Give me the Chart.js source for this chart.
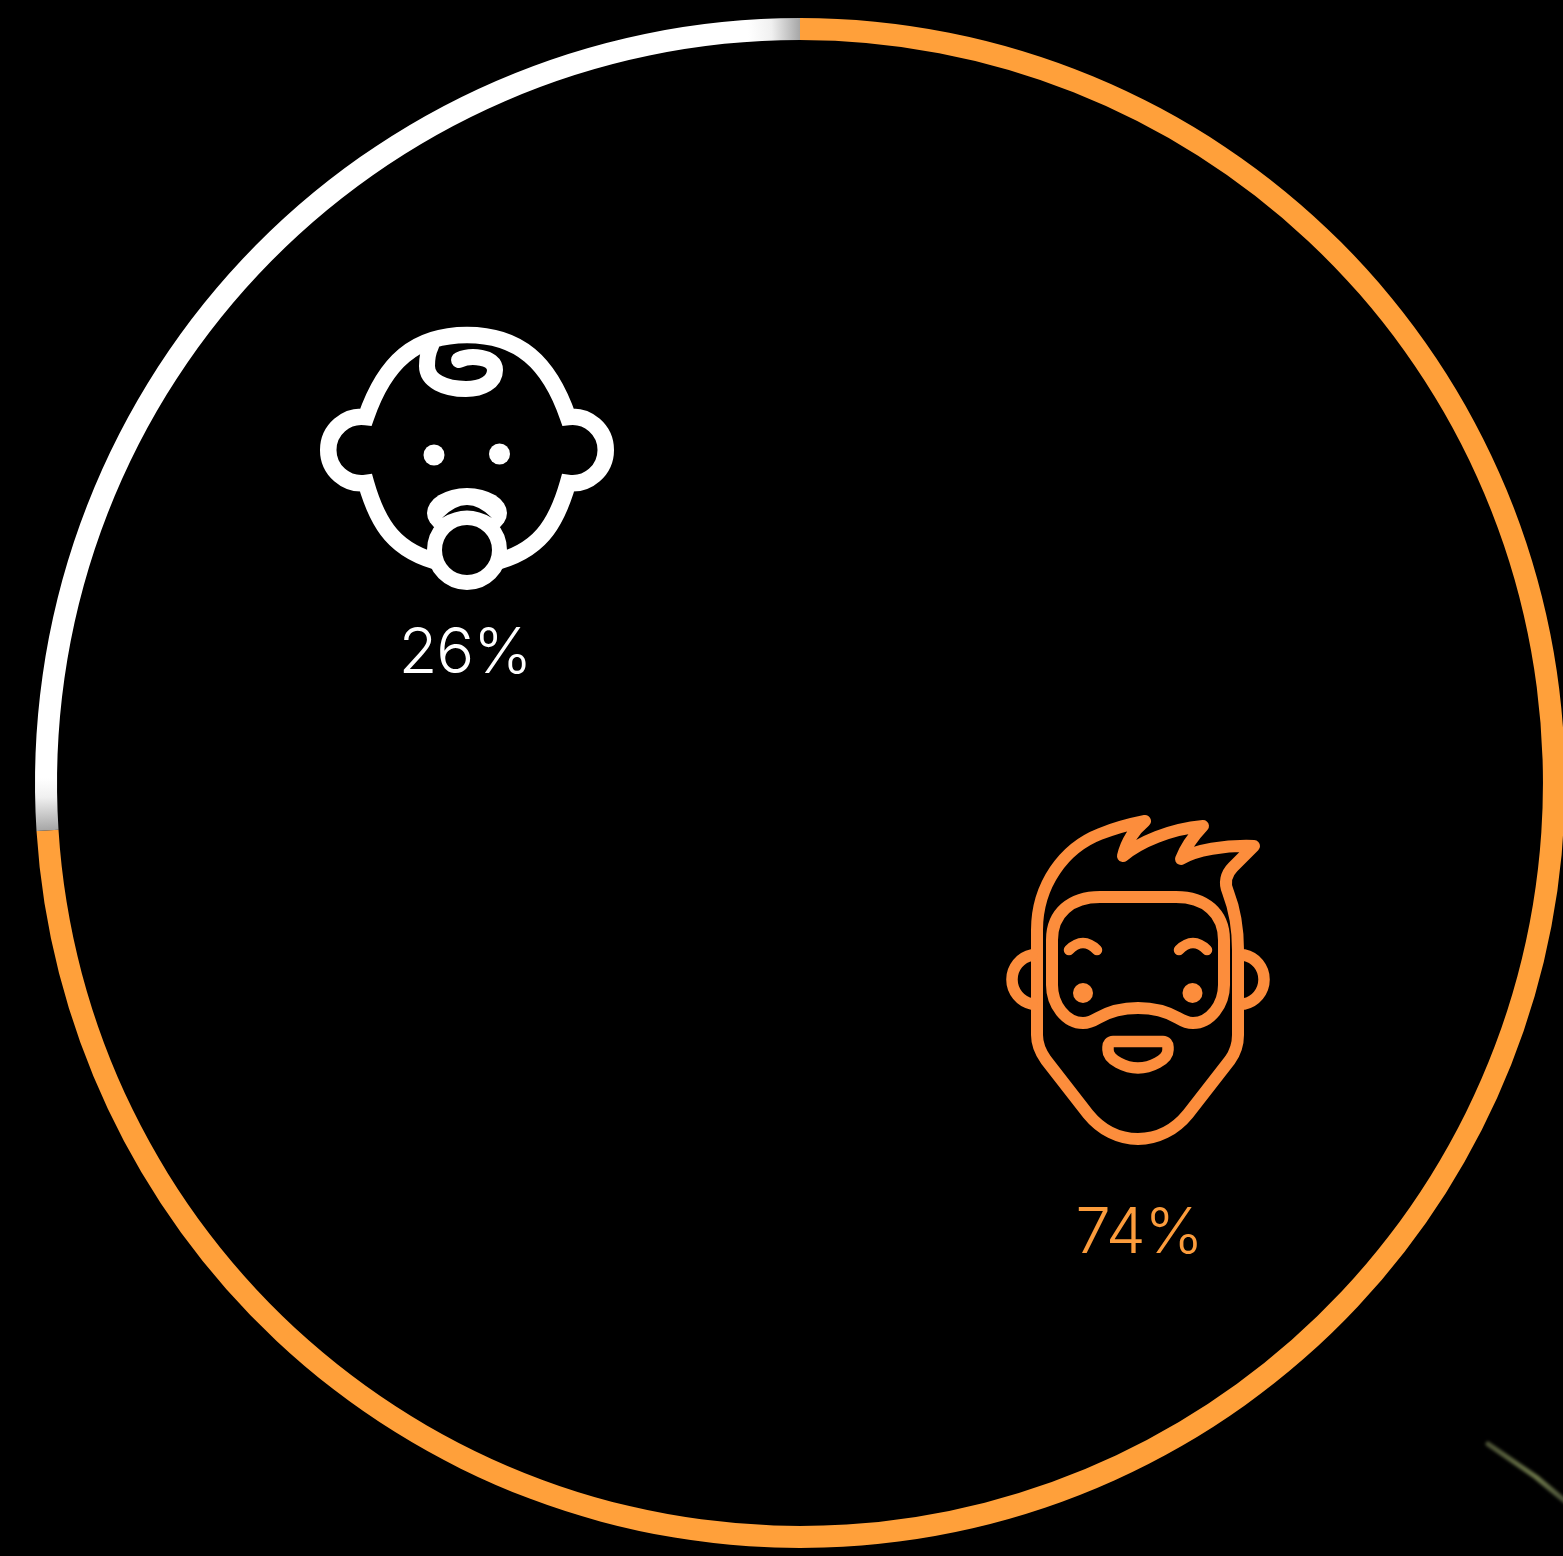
<!DOCTYPE html>
<html>
<head>
<meta charset="utf-8">
<title>26% / 74%</title>
<script src="https://cdn.jsdelivr.net/npm/chart.js@4"></script>
<style>
    html, body { margin: 0; padding: 0; background: #000; }
    #wrap { width: 1563px; height: 1556px; overflow: hidden; background: #000; }
    canvas { display: block; }
</style>
</head>
<body>
<div id="wrap"><canvas id="chart" width="1600" height="1566"></canvas></div>
<script>
// data
const categories = ['adults', 'babies'];
const shares = [74, 26];

// label positions (decoration, not data)
const labelColors = ['#FC9C3C', '#FFFFFF'];
const labelPos = [[1139, 1253], [465, 673]];

const RING_ORANGE = '#FFA03A';
const ICON_ORANGE = '#FC8D3C';

function whiteArc(c) {
    // the white slice greys out over its last few pixels at both ends
    const g = c.createConicGradient(-Math.PI / 2, 800, 783);
    g.addColorStop(0.74, '#a6a6a6');
    g.addColorStop(0.747, '#f0f0f0');
    g.addColorStop(0.751, '#ffffff');
    g.addColorStop(0.989, '#ffffff');
    g.addColorStop(0.994, '#f0f0f0');
    g.addColorStop(1, '#a6a6a6');
    return g;
}

function strokePath(c, d, w, color) {
    c.lineWidth = w;
    c.strokeStyle = color;
    c.stroke(new Path2D(d));
}

function dot(c, x, y, r, color) {
    c.fillStyle = color;
    c.beginPath();
    c.arc(x, y, r, 0, Math.PI * 2);
    c.fill();
}

function drawBaby(c) {
    const w = '#fff';
    // head, ears and cheeks as one line, sharp corners where the ears meet the head
    c.lineJoin = 'miter';
    c.lineCap = 'butt';
    strokePath(c, 'M442 563 C395 552 378 525 366 483 A33.3 33.3 0 1 1 366 417 C385 362 415 335 467 335 C519 335 549 362 568 417 A33.3 33.3 0 1 1 568 483 C556 525 539 552 492 563', 16.5, w);
    c.lineJoin = 'round';
    c.lineCap = 'round';
    // curl
    strokePath(c, 'M459 360 C470 355 495 356 495 370 C495 382 482 389 466 389 C445 389 427 381 427 366 C427 358 428 352 431 346', 16, w);
    // eyes
    dot(c, 434, 455, 10.5, w);
    dot(c, 499.5, 454, 10.5, w);
    // pacifier
    c.fillStyle = w;
    c.beginPath();
    c.ellipse(467, 513, 40, 25, 0, 0, Math.PI * 2);
    c.fill();
    c.fillStyle = '#000';
    c.beginPath();
    c.arc(467, 550, 32.5, 0, Math.PI * 2);
    c.fill();
    c.lineWidth = 15;
    c.strokeStyle = w;
    c.stroke();
    c.fillStyle = '#000';
    c.fill(new Path2D('M442 518 Q467 492 492 518 Q467 503 442 518 Z'));
}

function drawMan(c) {
    const o = ICON_ORANGE;
    // head with hair
    strokePath(c, 'M1037 930 C1037 885 1064 848 1100 834 C1115 828 1130 824 1145 821 Q1128 835 1123 856 C1140 842 1170 829 1203 826 Q1187 843 1181 859 C1195 850 1225 845 1254 846 L1233 867 C1226 874 1224 883 1228 892 C1235 910 1238 930 1238 950 L1238 1035 C1238 1045 1235 1053 1230 1060 L1188 1114 C1175 1130 1157 1139 1138 1139 C1119 1139 1101 1130 1088 1114 L1046 1060 C1041 1053 1037 1045 1037 1035 Z', 12, o);
    // ears
    strokePath(c, 'M1032 955 A25 25 0 0 0 1032 1004', 11.5, o);
    strokePath(c, 'M1244 955 A25 25 0 0 1 1244 1004', 11.5, o);
    // beard line
    strokePath(c, 'M1100 897 L1176 897 C1205 897 1224 913 1224 940 L1224 985 C1224 1005 1210 1023 1193 1023 C1187 1023 1183 1021 1178 1018 C1166 1011 1152 1008 1138 1008 C1124 1008 1110 1011 1098 1018 C1093 1021 1089 1023 1083 1023 C1066 1023 1052 1005 1052 985 L1052 940 C1052 913 1071 897 1100 897 Z', 12, o);
    // eyebrows
    strokePath(c, 'M1069 950 C1074 945 1078 943 1083 943 C1088 943 1092 945 1097 950', 10.5, o);
    strokePath(c, 'M1179 950 C1184 945 1188 943 1193 943 C1198 943 1202 945 1207 950', 10.5, o);
    // eyes
    dot(c, 1083, 993, 10, o);
    dot(c, 1192.5, 993, 10, o);
    // mouth
    strokePath(c, 'M1113 1041.5 L1163 1041.5 C1166 1041.5 1168 1044 1168 1047 L1168 1050 C1168 1060 1150 1068 1138 1068 C1126 1068 1108 1060 1108 1050 L1108 1047 C1108 1044 1110 1041.5 1113 1041.5 Z', 11.5, o);
}

const iconPlugin = {
    id: 'icons',
    afterDraw(chart) {
        const c = chart.ctx;
        c.save();
        c.lineCap = 'round';
        c.lineJoin = 'round';
        drawBaby(c);
        drawMan(c);

        // percent labels
        c.textAlign = 'center';
        c.textBaseline = 'alphabetic';
        c.font = '300 63px Inter, Lato, sans-serif';
        c.letterSpacing = '-1px';
        shares.forEach((v, i) => {
            c.fillStyle = labelColors[i];
            c.fillText(v + '%', labelPos[i][0], labelPos[i][1]);
        });

        // the faint scratch at the bottom right of the picture
        c.filter = 'blur(1.5px)';
        const g = c.createLinearGradient(1486, 1443, 1563, 1500);
        g.addColorStop(0, '#4a5034');
        g.addColorStop(0.65, '#6a7448');
        g.addColorStop(1, '#4a5038');
        c.strokeStyle = g;
        c.lineWidth = 5;
        c.beginPath();
        c.moveTo(1488, 1444);
        c.lineTo(1536, 1477);
        c.lineTo(1565, 1501);
        c.stroke();
        c.restore();
    }
};

const chart = new Chart(document.getElementById('chart'), {
    type: 'doughnut',
    data: {
        labels: categories,
        datasets: [{
            data: shares,
            backgroundColor: (context) => context.dataIndex === 0 ? RING_ORANGE : whiteArc(context.chart.ctx),
            borderWidth: 0
        }]
    },
    options: {
        responsive: false,
        devicePixelRatio: 1,
        animation: false,
        radius: 765,
        cutout: '97.12%',
        rotation: 0,
        layout: { padding: 0 },
        plugins: {
            legend: { display: false },
            tooltip: { enabled: false },
            title: { display: false }
        }
    },
    plugins: [iconPlugin]
});
</script>
</body>
</html>
